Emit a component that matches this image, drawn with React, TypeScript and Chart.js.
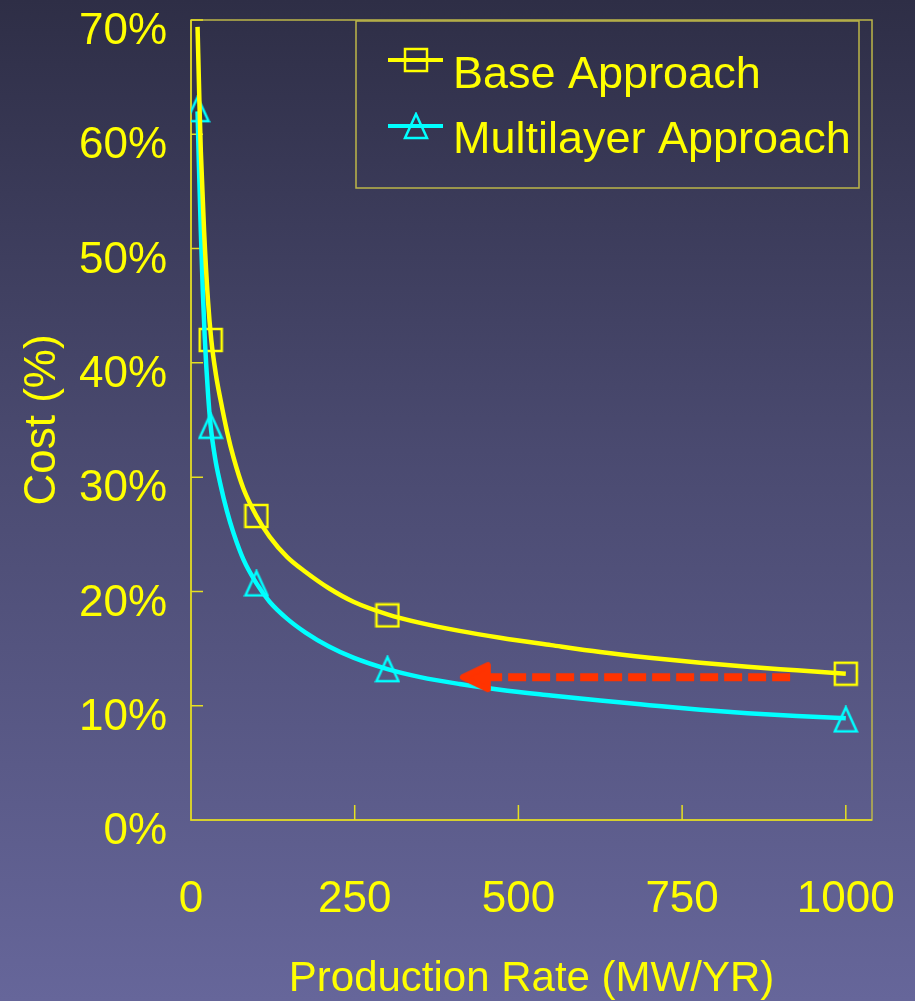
import React, { useEffect, useRef } from 'react';
import { Chart, registerables } from 'chart.js';

Chart.register(...registerables);

// ---- data ----
const xTickValues = [0, 250, 500, 750, 1000];
const yMin = 0;
const yMax = 70;
const yStep = 10;
const xMin = 0;
const xMax = 1040;

const baseLabel = 'Base Approach';
const multiLabel = 'Multilayer Approach';

const baseMarkX = [30, 100, 300, 1000];
const baseMarkY = [42.0, 26.6, 17.9, 12.8];
const multiMarkX = [10, 30, 100, 300, 1000];
const multiMarkY = [62.2, 34.5, 20.7, 13.2, 8.8];

const baseCurveX = [10, 13, 15, 20, 26, 31, 38, 45, 55, 65, 80, 100, 120, 147, 175, 210, 248, 300, 350, 410, 472, 550, 625, 700, 778, 850, 925, 1000];
const baseCurveY = [69.4, 62.5, 58.5, 51.5, 45.4, 42.0, 39.0, 36.8, 34.0, 31.7, 29.0, 26.6, 24.8, 23.0, 21.7, 20.3, 19.1, 18.0, 17.25, 16.55, 15.95, 15.3, 14.7, 14.2, 13.75, 13.4, 13.1, 12.8];
const multiCurveX = [10, 12, 15, 18, 21, 26, 30, 37, 44, 55, 65, 80, 100, 120, 147, 175, 210, 248, 300, 350, 410, 472, 550, 625, 700, 778, 850, 925, 1000];
const multiCurveY = [62.0, 57.5, 51.5, 46.3, 42.2, 37.3, 34.5, 31.6, 29.6, 27.0, 25.1, 22.8, 20.7, 19.1, 17.6, 16.4, 15.2, 14.2, 13.2, 12.5, 11.9, 11.4, 10.9, 10.45, 10.05, 9.65, 9.35, 9.1, 8.9];

const arrowX = [915, 435];
const arrowY = [12.5, 12.5];

const YELLOW = '#ffff00';
const CYAN = '#00ffff';
const RED = '#ff3300';
const OLIVE = '#bdb648';
const FONT = '"Liberation Sans", Arial, sans-serif';

function makeSquare(color: string) {
  const c = document.createElement('canvas');
  c.width = 26; c.height = 26;
  const g = c.getContext('2d')!;
  g.strokeStyle = color; g.lineWidth = 2.5;
  g.strokeRect(2, 2, 22, 22);
  return c;
}
function makeTriangle(color: string) {
  const c = document.createElement('canvas');
  c.width = 26; c.height = 28;
  const g = c.getContext('2d')!;
  g.strokeStyle = color; g.lineWidth = 2.5; g.lineJoin = 'miter';
  g.beginPath(); g.moveTo(13, 2); g.lineTo(24, 26); g.lineTo(2, 26); g.closePath(); g.stroke();
  return c;
}
function makeArrowHead(color: string) {
  const c = document.createElement('canvas');
  c.width = 36; c.height = 36;
  const g = c.getContext('2d')!;
  g.strokeStyle = color; g.fillStyle = color; g.lineWidth = 6; g.lineJoin = 'round';
  g.beginPath(); g.moveTo(5, 18); g.lineTo(30, 6); g.lineTo(30, 30); g.closePath(); g.fill(); g.stroke();
  return c;
}

const pts = (xs: number[], ys: number[]) => xs.map((x, i) => ({ x, y: ys[i] }));

const framePlugin = {
  id: 'frame',
  beforeDatasetsDraw(chart: any) {
    const { ctx, chartArea: a, scales } = chart;
    ctx.save();
    ctx.strokeStyle = OLIVE; ctx.lineWidth = 1.5;
    ctx.strokeRect(a.left, a.top, a.right - a.left, a.bottom - a.top);
    ctx.strokeStyle = '#e6e020';
    ctx.beginPath();
    ctx.moveTo(a.left, a.top); ctx.lineTo(a.left, a.bottom); ctx.lineTo(a.right, a.bottom);
    scales.y.ticks.forEach((t: any) => {
      const py = scales.y.getPixelForValue(t.value);
      ctx.moveTo(a.left, py); ctx.lineTo(a.left + 12, py);
    });
    scales.x.ticks.forEach((t: any) => {
      const px = scales.x.getPixelForValue(t.value);
      ctx.moveTo(px, a.bottom); ctx.lineTo(px, a.bottom - 15);
    });
    ctx.stroke();
    ctx.restore();
  },
};

const boxLegendPlugin = {
  id: 'boxLegend',
  afterDraw(chart: any, _args: any, opts: any) {
    const { ctx } = chart;
    const items = opts.items || [];
    ctx.save();
    ctx.strokeStyle = OLIVE; ctx.lineWidth = 1.5;
    ctx.strokeRect(356, 21, 503, 167);
    items.forEach((it: any, i: number) => {
      const ly = 60 + i * 66;
      ctx.strokeStyle = it.color; ctx.lineWidth = 4;
      ctx.beginPath(); ctx.moveTo(388, ly); ctx.lineTo(443, ly); ctx.stroke();
      const img = it.image;
      ctx.drawImage(img, 416 - img.width / 2, ly - img.height / 2);
      ctx.fillStyle = YELLOW;
      ctx.font = '45px ' + FONT;
      ctx.textAlign = 'left'; ctx.textBaseline = 'alphabetic';
      ctx.fillText(it.label, 453, 88 + i * 65);
    });
    ctx.restore();
  },
};

export default function App() {
  const ref = useRef<HTMLCanvasElement | null>(null);
  useEffect(() => {
    document.body.style.margin = '0';
    document.body.style.overflow = 'hidden';
    if (!ref.current) return;
    const sq = makeSquare(YELLOW);
    const tri = makeTriangle(CYAN);
    const head = makeArrowHead(RED);
    Chart.defaults.font.family = FONT;
    const chart = new Chart(ref.current, {
      type: 'line',
      data: {
        datasets: [
          {
            label: 'arrow', data: pts(arrowX, arrowY), borderColor: RED, borderWidth: 8,
            borderDash: [18, 6], pointStyle: head as any, pointRadius: [0, 12] as any,
            order: 1,
          },
          {
            label: baseLabel + ' curve', data: pts(baseCurveX, baseCurveY), borderColor: YELLOW,
            borderWidth: 4.5, pointRadius: 0, cubicInterpolationMode: 'monotone', order: 2,
          },
          {
            label: multiLabel + ' curve', data: pts(multiCurveX, multiCurveY), borderColor: CYAN,
            borderWidth: 4.5, pointRadius: 0, cubicInterpolationMode: 'monotone', order: 2,
          },
          {
            label: baseLabel, data: pts(baseMarkX, baseMarkY), showLine: false,
            pointStyle: sq as any, pointRadius: 11, borderColor: YELLOW, order: 3,
          },
          {
            label: multiLabel, data: pts(multiMarkX, multiMarkY), showLine: false,
            pointStyle: tri as any, pointRadius: 11, borderColor: CYAN, order: 3,
          },
        ],
      },
      options: {
        animation: false,
        responsive: true,
        maintainAspectRatio: false,
        layout: { padding: { top: 18, right: 43, left: 0, bottom: 0 } },
        plugins: {
          legend: { display: false },
          tooltip: { enabled: false },
          boxLegend: {
            items: [
              { label: baseLabel, color: YELLOW, image: sq },
              { label: multiLabel, color: CYAN, image: tri },
            ],
          },
        } as any,
        scales: {
          x: {
            type: 'linear', min: xMin, max: xMax,
            afterBuildTicks: (s: any) => { s.ticks = xTickValues.map((v) => ({ value: v })); },
            afterFit: (s: any) => { s.height = 181; s.paddingLeft = 0; s.paddingRight = 0; },
            grid: { display: false }, border: { display: false },
            ticks: {
              color: YELLOW, font: { size: 44 }, padding: 45, maxRotation: 0, autoSkip: false,
              callback: (v: any) => String(v),
            },
            title: {
              display: true, text: 'Production Rate (MW/YR)', color: YELLOW,
              font: { size: 42 }, padding: { top: 0, bottom: -4 },
            },
          },
          y: {
            type: 'linear', min: yMin, max: yMax,
            afterFit: (s: any) => { s.width = 191; s.paddingTop = 0; s.paddingBottom = 0; },
            grid: { display: false }, border: { display: false },
            ticks: {
              stepSize: yStep, color: YELLOW, font: { size: 44 }, padding: 16, labelOffset: 12,
              callback: (v: any) => v + '%',
            },
            title: {
              display: true, text: 'Cost (%)', color: YELLOW,
              font: { size: 44 }, padding: { top: 16, bottom: 0 },
            },
          },
        },
      },
      plugins: [framePlugin, boxLegendPlugin],
    });
    return () => chart.destroy();
  }, []);
  return (
    <div
      style={{
        width: 915, height: 1001, position: 'relative',
        background: 'linear-gradient(to bottom, #2e2e46 0%, #4a4a70 45%, #66669a 100%)',
      }}
    >
      <canvas ref={ref} />
    </div>
  );
}
